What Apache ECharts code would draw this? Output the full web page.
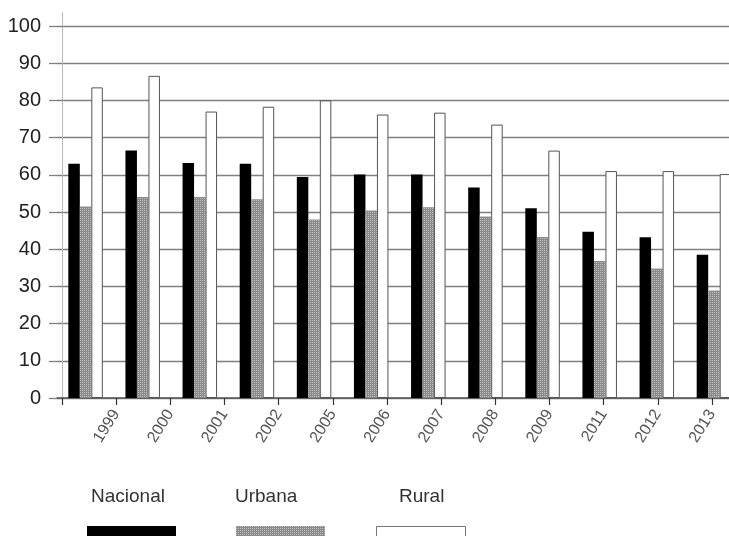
<!DOCTYPE html>
<html>
<head>
<meta charset="utf-8">
<script src="https://cdn.jsdelivr.net/npm/echarts@6/dist/echarts.min.js"></script>
<style>
html,body{margin:0;padding:0;background:#fff;}
#chart{width:729px;height:536px;}
</style>
</head>
<body>
<div id="chart"></div>
<script>
var years = ['1999','2000','2001','2002','2005','2006','2007','2008','2009','2011','2012','2013'];
var nacional = [63.0, 66.5, 63.2, 63.0, 59.4, 60.1, 60.1, 56.6, 51.0, 44.7, 43.2, 38.5];
var urbana   = [51.5, 54.0, 54.0, 53.4, 48.0, 50.4, 51.3, 48.8, 43.3, 36.8, 34.8, 28.9];
var rural    = [83.5, 86.6, 77.0, 78.3, 80.0, 76.2, 76.7, 73.5, 66.5, 61.0, 61.0, 60.2];
var seriesNames = ['Nacional', 'Urbana', 'Rural'];
var yTicks = [0, 100, 10];

var FONT = 'Liberation Sans, Arial, sans-serif';
var chart = echarts.init(document.getElementById('chart'));

var tickCats = [''].concat(years);

var legendLefts = [87, 236, 376];
var titleLefts = [91, 235, 399];

var dotDecal = {
  symbol: 'rect', symbolSize: 1, color: 'rgba(255,255,255,0.45)',
  dashArrayX: [1, 1], dashArrayY: [1, 1], rotation: 0
};

var option = {
  backgroundColor: '#fff',
  animation: false,
  title: seriesNames.map(function (n, i) {
    return {
      text: n, left: titleLefts[i], top: 487, padding: 0,
      textStyle: { fontSize: 19, fontWeight: 'normal', color: '#333', fontFamily: FONT }
    };
  }),
  legend: seriesNames.map(function (n, i) {
    return {
      data: [n], left: legendLefts[i], top: 526, padding: 0,
      itemWidth: 89, itemHeight: 20, icon: 'rect', selectedMode: false,
      formatter: function () { return ''; },
      itemStyle: i === 2 ? { borderColor: '#777', borderWidth: 1 } : { borderWidth: 0 }
    };
  }),
  grid: [
    { left: 57, width: 685.5, top: 26, bottom: 138, outerBoundsMode: 'none', containLabel: false },
    { left: 62, right: 17, top: 12, bottom: 138, outerBoundsMode: 'none', containLabel: false }
  ],
  xAxis: [
    {
      type: 'category', gridIndex: 0, data: years,
      axisLine: { show: true, lineStyle: { color: '#555', width: 1.5 } },
      axisTick: { show: false }, axisLabel: { show: false }, splitLine: { show: false }
    },
    {
      type: 'category', gridIndex: 1, data: tickCats, boundaryGap: false,
      axisLine: { show: false },
      axisTick: { show: true, interval: 0, length: 7, lineStyle: { color: '#333', width: 1.2 } },
      axisLabel: { interval: 0, rotate: 58, margin: 13, fontSize: 16, color: '#555', fontFamily: FONT },
      splitLine: { show: false }
    }
  ],
  yAxis: [
    {
      type: 'value', gridIndex: 0, min: yTicks[0], max: yTicks[1], interval: yTicks[2],
      axisLine: { show: false },
      axisTick: { show: true, length: 8, lineStyle: { color: '#808080', width: 1.3 } },
      axisLabel: { margin: 16, fontSize: 20, color: '#222', fontFamily: FONT },
      splitLine: { show: true, lineStyle: { color: '#808080', width: 1.3 } }
    },
    {
      type: 'value', gridIndex: 1, min: 0, max: 1,
      axisLine: { show: true, lineStyle: { color: '#aaa', width: 1, type: 'dotted' } },
      axisTick: { show: false }, axisLabel: { show: false }, splitLine: { show: false }
    }
  ],
  series: [
    {
      name: seriesNames[0], type: 'bar', xAxisIndex: 0, yAxisIndex: 0,
      data: nacional, barWidth: 11.5, barGap: '0%',
      itemStyle: { color: '#000' }
    },
    {
      name: seriesNames[1], type: 'bar', xAxisIndex: 0, yAxisIndex: 0,
      data: urbana, barWidth: 11.5, barGap: '0%',
      itemStyle: { color: '#8a8a8a', decal: dotDecal }
    },
    {
      name: seriesNames[2], type: 'bar', xAxisIndex: 0, yAxisIndex: 0,
      data: rural, barWidth: 11.5, barGap: '0%',
      itemStyle: { color: '#fff', borderColor: '#555', borderWidth: 1 }
    }
  ]
};
chart.setOption(option);
</script>
</body>
</html>
